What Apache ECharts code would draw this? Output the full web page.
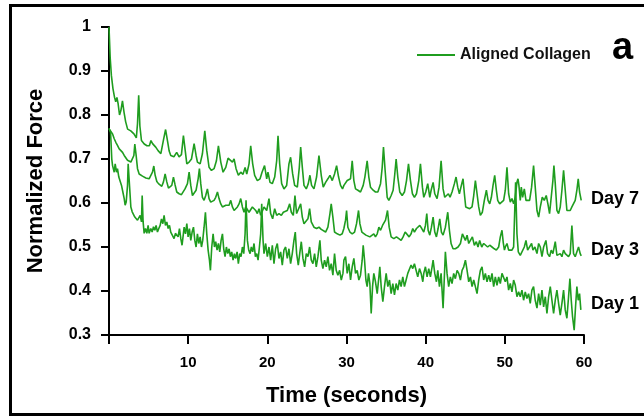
<!DOCTYPE html>
<html>
<head>
<meta charset="utf-8">
<script src="https://cdn.jsdelivr.net/npm/echarts@6/dist/echarts.min.js"></script>
<style>
  html, body { margin: 0; padding: 0; background: #fff; }
  #chart { width: 644px; height: 418px; }
</style>
</head>
<body>
<div id="chart"></div>
<script>
// Stress relaxation of aligned collagen gels: [time (s), normalized force]
const day7 = [
  [0,1.0],[0.15,0.93],[0.3,0.89],[0.5,0.86],[0.7,0.84],[0.85,0.83],[1.0,0.84],[1.15,0.826],[1.33,0.80],[1.5,0.81],
  [1.7,0.832],[1.9,0.806],[2.1,0.785],[2.35,0.768],[2.75,0.764],[3.15,0.757],[3.45,0.748],[3.6,0.78],[3.75,0.845],[3.9,0.775],
  [4.1,0.742],[4.45,0.734],[4.8,0.73],[5.1,0.73],[5.3,0.742],[5.5,0.735],[5.7,0.738],[5.9,0.727],[6.2,0.719],[6.55,0.712],
  [6.9,0.745],[7.15,0.767],[7.4,0.74],[7.6,0.718],[7.8,0.708],[8.2,0.705],[8.55,0.715],[8.85,0.705],[9.15,0.71],[9.4,0.753],
  [9.83,0.689],[10.12,0.693],[10.42,0.70],[10.75,0.735],[11.0,0.708],[11.17,0.693],[11.51,0.689],[11.8,0.712],[12.1,0.764],[12.35,0.719],
  [12.64,0.681],[12.94,0.674],[13.27,0.678],[13.57,0.696],[13.82,0.73],[14.12,0.693],[14.41,0.67],[14.75,0.681],[15.04,0.702],[15.29,0.704],
  [15.59,0.693],[15.8,0.70],[16.05,0.678],[16.34,0.663],[16.64,0.67],[16.93,0.665],[17.19,0.681],[17.4,0.666],[17.69,0.689],[17.9,0.73],
  [18.15,0.689],[18.4,0.663],[18.74,0.651],[19.08,0.655],[19.33,0.67],[19.65,0.685],[19.92,0.655],[20.08,0.67],[20.34,0.647],[20.63,0.644],
  [20.93,0.659],[21.18,0.696],[21.35,0.753],[21.56,0.689],[21.81,0.644],[22.1,0.632],[22.44,0.64],[22.73,0.689],[22.94,0.704],[23.2,0.666],
  [23.45,0.64],[23.79,0.636],[24.04,0.681],[24.21,0.727],[24.42,0.681],[24.63,0.64],[24.92,0.632],[25.17,0.644],[25.38,0.663],[25.59,0.64],
  [25.89,0.632],[26.22,0.659],[26.52,0.708],[26.81,0.663],[27.06,0.636],[27.36,0.647],[27.65,0.655],[27.91,0.663],[28.2,0.651],[28.49,0.666],
  [28.75,0.685],[29.0,0.659],[29.25,0.64],[29.5,0.632],[29.67,0.64],[30.09,0.651],[30.3,0.647],[30.51,0.655],[30.72,0.696],[30.93,0.651],
  [31.14,0.632],[31.44,0.629],[31.77,0.625],[32.11,0.64],[32.32,0.659],[32.61,0.696],[32.82,0.659],[33.03,0.636],[33.37,0.629],[33.66,0.625],
  [33.96,0.625],[34.3,0.644],[34.51,0.681],[34.67,0.727],[34.88,0.674],[35.14,0.613],[35.35,0.606],[35.64,0.617],[35.89,0.629],[36.1,0.666],
  [36.27,0.70],[36.48,0.659],[36.73,0.625],[37.03,0.617],[37.32,0.625],[37.58,0.651],[37.83,0.689],[38.08,0.651],[38.33,0.621],[38.58,0.613],
  [38.84,0.621],[39.13,0.651],[39.34,0.689],[39.59,0.636],[39.76,0.613],[40.01,0.625],[40.26,0.644],[40.52,0.613],[40.69,0.629],[40.94,0.647],
  [41.15,0.621],[41.44,0.61],[41.69,0.636],[41.95,0.696],[42.2,0.632],[42.41,0.613],[42.62,0.617],[42.87,0.621],[43.08,0.613],[43.33,0.625],
  [43.63,0.644],[43.84,0.659],[44.05,0.636],[44.26,0.621],[44.51,0.64],[44.72,0.655],[44.89,0.621],[45.06,0.591],[45.31,0.587],[45.56,0.587],
  [45.86,0.591],[46.07,0.617],[46.28,0.651],[46.49,0.621],[46.7,0.591],[46.91,0.572],[47.16,0.579],[47.41,0.606],[47.67,0.629],[47.88,0.606],
  [48.09,0.598],[48.3,0.613],[48.51,0.64],[48.72,0.663],[48.93,0.629],[49.1,0.606],[49.35,0.598],[49.6,0.595],[49.85,0.606],[50.06,0.629],
  [50.27,0.681],[50.48,0.621],[50.69,0.602],[50.9,0.61],[51.11,0.598],[51.32,0.613],[51.53,0.647],[51.66,0.655],[51.78,0.64],[51.95,0.606],
  [52.08,0.636],[52.25,0.613],[52.46,0.632],[52.67,0.606],[52.88,0.602],[53.13,0.606],[53.38,0.636],[53.63,0.685],[53.84,0.636],[54.06,0.583],
  [54.27,0.568],[54.48,0.591],[54.73,0.613],[54.98,0.606],[55.23,0.617],[55.44,0.598],[55.65,0.576],[55.86,0.613],[56.07,0.651],[56.2,0.685],
  [56.37,0.644],[56.58,0.583],[56.79,0.576],[57.0,0.591],[57.21,0.629],[57.42,0.674],[57.63,0.629],[57.84,0.583],[58.05,0.579],[58.26,0.583],
  [58.47,0.591],[58.68,0.595],[58.89,0.606],[59.1,0.629],[59.27,0.655],[59.44,0.625],[59.65,0.606]
];

const day3 = [
  [0.02,0.768],[0.23,0.765],[0.45,0.757],[0.66,0.746],[0.86,0.738],[1.07,0.731],[1.29,0.723],[1.5,0.719],[1.71,0.715],[1.92,0.708],
  [2.13,0.704],[2.34,0.697],[2.55,0.693],[2.76,0.693],[2.97,0.697],[3.14,0.708],[3.26,0.734],[3.43,0.708],[3.6,0.678],[3.81,0.666],
  [4.02,0.663],[4.23,0.661],[4.44,0.659],[4.65,0.657],[4.86,0.654],[5.07,0.655],[5.28,0.654],[5.49,0.67],[5.66,0.684],[5.83,0.663],
  [6.04,0.649],[6.25,0.644],[6.46,0.64],[6.67,0.638],[6.88,0.648],[7.09,0.666],[7.3,0.648],[7.51,0.634],[7.72,0.631],[7.93,0.64],
  [8.14,0.659],[8.35,0.641],[8.56,0.625],[8.86,0.621],[9.15,0.619],[9.4,0.621],[9.6,0.632],[9.7,0.629],[9.91,0.644],[10.12,0.67],
  [10.33,0.64],[10.54,0.617],[10.75,0.613],[11.0,0.629],[11.26,0.655],[11.42,0.678],[11.59,0.644],[11.8,0.613],[12.01,0.606],[12.22,0.617],
  [12.43,0.632],[12.64,0.61],[12.85,0.602],[13.06,0.606],[13.27,0.606],[13.48,0.613],[13.7,0.625],[13.9,0.61],[14.12,0.598],[14.33,0.591],
  [14.54,0.587],[14.75,0.595],[14.96,0.591],[15.17,0.595],[15.38,0.606],[15.59,0.591],[15.8,0.583],[16.01,0.587],[16.22,0.591],[16.43,0.598],
  [16.64,0.61],[16.85,0.591],[17.06,0.579],[17.27,0.591],[17.48,0.595],[17.69,0.579],[17.9,0.576],[18.11,0.591],[18.32,0.595],[18.53,0.583],
  [18.74,0.576],[18.95,0.587],[19.16,0.572],[19.37,0.568],[19.58,0.591],[19.92,0.583],[20.21,0.61],[20.42,0.576],[20.67,0.564],[20.93,0.587],
  [21.18,0.572],[21.47,0.576],[21.77,0.572],[22.02,0.579],[22.19,0.576],[22.52,0.583],[22.82,0.598],[23.03,0.579],[23.28,0.572],[23.49,0.617],
  [23.7,0.576],[23.95,0.572],[24.21,0.598],[24.42,0.568],[24.63,0.553],[24.88,0.553],[25.13,0.564],[25.34,0.587],[25.55,0.557],[25.89,0.545],
  [26.22,0.542],[26.52,0.545],[26.81,0.54],[27.06,0.536],[27.36,0.534],[27.65,0.545],[27.91,0.576],[28.07,0.598],[28.28,0.568],[28.49,0.534],
  [28.83,0.53],[29.17,0.527],[29.46,0.53],[29.67,0.542],[29.88,0.561],[30.01,0.583],[30.17,0.545],[30.43,0.534],[30.72,0.53],[31.02,0.534],
  [31.27,0.553],[31.52,0.583],[31.69,0.553],[31.94,0.534],[32.19,0.534],[32.45,0.527],[32.7,0.53],[32.95,0.523],[33.2,0.527],[33.45,0.53],
  [33.66,0.523],[33.88,0.53],[34.09,0.545],[34.3,0.538],[34.55,0.549],[34.72,0.545],[34.93,0.561],[35.18,0.583],[35.39,0.545],[35.64,0.523],
  [35.98,0.519],[36.31,0.523],[36.61,0.519],[36.9,0.515],[37.15,0.523],[37.41,0.534],[37.66,0.53],[37.91,0.523],[38.16,0.53],[38.37,0.542],
  [38.58,0.534],[38.84,0.542],[39.0,0.538],[39.26,0.549],[39.51,0.542],[39.76,0.534],[39.97,0.549],[40.14,0.576],[40.31,0.538],[40.52,0.527],
  [40.73,0.545],[40.94,0.568],[41.15,0.534],[41.36,0.523],[41.57,0.542],[41.78,0.564],[41.99,0.534],[42.2,0.527],[42.49,0.545],[42.79,0.579],
  [43.0,0.538],[43.21,0.508],[43.46,0.496],[43.75,0.496],[44.09,0.5],[44.39,0.508],[44.64,0.53],[44.81,0.534],[45.02,0.515],[45.23,0.527],
  [45.44,0.508],[45.65,0.515],[45.9,0.523],[46.15,0.504],[46.4,0.512],[46.61,0.5],[46.82,0.515],[47.08,0.5],[47.33,0.508],[47.58,0.512],
  [47.83,0.5],[48.09,0.504],[48.38,0.5],[48.67,0.496],[48.93,0.493],[49.22,0.5],[49.43,0.523],[49.64,0.538],[49.8,0.51],[49.95,0.493],
  [50.06,0.5],[50.27,0.508],[50.48,0.493],[50.69,0.489],[50.9,0.493],[51.11,0.5],[51.24,0.5],[51.36,0.647],[51.53,0.53],[51.7,0.489],
  [51.95,0.481],[52.2,0.485],[52.46,0.5],[52.67,0.515],[52.88,0.493],[53.13,0.496],[53.38,0.508],[53.55,0.493],[53.8,0.5],[54.06,0.485],
  [54.27,0.508],[54.48,0.5],[54.69,0.478],[54.9,0.5],[55.19,0.515],[55.4,0.485],[55.65,0.478],[55.86,0.493],[56.07,0.485],[56.37,0.512],
  [56.58,0.481],[56.79,0.478],[57.0,0.485],[57.21,0.478],[57.42,0.493],[57.63,0.485],[57.84,0.481],[58.05,0.478],[58.26,0.485],[58.47,0.549],
  [58.68,0.485],[58.89,0.478],[59.1,0.481],[59.31,0.5],[59.52,0.485],[59.65,0.48]
];

const day1 = [
  [0,0.77],[0.1,0.765],[0.2,0.76],[0.35,0.70],[0.45,0.685],[0.66,0.67],[0.78,0.689],[0.95,0.67],[1.07,0.678],[1.24,0.659],
  [1.41,0.655],[1.58,0.64],[1.75,0.625],[1.92,0.61],[2.04,0.595],[2.17,0.602],[2.34,0.64],[2.42,0.689],[2.59,0.64],[2.76,0.591],
  [2.93,0.58],[3.1,0.576],[3.26,0.568],[3.43,0.572],[3.6,0.561],[3.77,0.564],[3.94,0.572],[4.1,0.557],[4.19,0.617],[4.31,0.557],
  [4.44,0.531],[4.61,0.542],[4.78,0.531],[4.94,0.549],[5.07,0.531],[5.28,0.542],[5.45,0.534],[5.62,0.546],[5.79,0.538],[5.95,0.549],
  [6.12,0.534],[6.29,0.542],[6.46,0.549],[6.63,0.564],[6.8,0.553],[6.96,0.572],[7.13,0.549],[7.3,0.557],[7.47,0.542],[7.64,0.549],
  [7.8,0.534],[8.01,0.538],[8.22,0.519],[8.39,0.531],[8.56,0.534],[8.73,0.523],[8.9,0.542],[9.07,0.519],[9.23,0.504],[9.4,0.531],
  [9.49,0.545],[9.66,0.53],[9.83,0.553],[9.99,0.523],[10.16,0.542],[10.33,0.515],[10.5,0.534],[10.67,0.545],[10.84,0.515],[11.0,0.5],
  [11.17,0.53],[11.34,0.508],[11.51,0.523],[11.68,0.5],[11.84,0.515],[12.01,0.545],[12.18,0.579],[12.35,0.53],[12.52,0.493],[12.69,0.47],
  [12.81,0.447],[12.98,0.5],[13.15,0.53],[13.32,0.5],[13.48,0.512],[13.65,0.493],[13.82,0.508],[13.99,0.489],[14.16,0.515],[14.33,0.53],
  [14.49,0.496],[14.66,0.478],[14.83,0.5],[15.0,0.485],[15.17,0.496],[15.33,0.478],[15.5,0.489],[15.67,0.47],[15.84,0.485],[16.01,0.474],
  [16.18,0.489],[16.34,0.462],[16.51,0.485],[16.68,0.478],[16.85,0.5],[17.02,0.485],[17.19,0.53],[17.31,0.606],[17.48,0.515],[17.65,0.493],
  [17.82,0.485],[17.98,0.5],[18.15,0.489],[18.32,0.508],[18.49,0.478],[18.66,0.485],[18.83,0.47],[19.0,0.5],[19.16,0.53],[19.29,0.598],
  [19.46,0.515],[19.58,0.485],[19.79,0.508],[20.0,0.478],[20.21,0.5],[20.42,0.47],[20.63,0.504],[20.84,0.462],[21.05,0.496],[21.26,0.508],
  [21.47,0.474],[21.68,0.489],[21.89,0.459],[22.1,0.493],[22.31,0.5],[22.52,0.474],[22.73,0.496],[22.94,0.462],[23.15,0.485],[23.36,0.515],
  [23.53,0.534],[23.7,0.485],[23.91,0.459],[24.12,0.489],[24.29,0.512],[24.5,0.474],[24.71,0.455],[24.92,0.485],[25.13,0.478],[25.34,0.5],
  [25.55,0.47],[25.76,0.462],[25.97,0.485],[26.18,0.455],[26.39,0.478],[26.64,0.515],[26.81,0.47],[27.02,0.451],[27.23,0.47],[27.44,0.455],
  [27.65,0.478],[27.86,0.447],[28.07,0.462],[28.28,0.436],[28.49,0.485],[28.7,0.447],[28.91,0.436],[29.13,0.447],[29.34,0.425],[29.55,0.44],
  [29.67,0.47],[29.88,0.478],[30.09,0.44],[30.3,0.462],[30.51,0.425],[30.72,0.455],[30.93,0.474],[31.14,0.44],[31.35,0.447],[31.56,0.425],
  [31.77,0.436],[31.98,0.47],[32.11,0.504],[32.28,0.47],[32.45,0.425],[32.61,0.41],[32.78,0.44],[32.95,0.417],[33.12,0.349],[33.29,0.41],
  [33.45,0.44],[33.66,0.421],[33.88,0.394],[34.09,0.432],[34.21,0.455],[34.38,0.41],[34.59,0.376],[34.8,0.41],[35.01,0.44],[35.22,0.41],
  [35.43,0.425],[35.64,0.394],[35.85,0.417],[36.06,0.391],[36.27,0.417],[36.48,0.402],[36.69,0.425],[36.9,0.41],[37.11,0.432],[37.32,0.41],
  [37.53,0.425],[37.74,0.44],[37.95,0.436],[38.16,0.459],[38.37,0.451],[38.58,0.462],[38.79,0.447],[39.0,0.432],[39.22,0.451],[39.43,0.44],
  [39.64,0.421],[39.76,0.44],[39.97,0.455],[40.18,0.432],[40.39,0.451],[40.6,0.432],[40.81,0.455],[40.94,0.47],[41.15,0.44],[41.36,0.421],
  [41.53,0.447],[41.74,0.41],[41.95,0.44],[42.2,0.361],[42.49,0.489],[42.7,0.44],[42.91,0.41],[43.12,0.432],[43.33,0.417],[43.54,0.44],
  [43.75,0.428],[43.97,0.447],[44.18,0.44],[44.39,0.425],[44.6,0.447],[44.81,0.455],[45.02,0.47],[45.23,0.447],[45.44,0.421],[45.65,0.432],
  [45.86,0.41],[46.07,0.425],[46.28,0.41],[46.49,0.394],[46.7,0.425],[46.91,0.447],[47.12,0.455],[47.33,0.425],[47.54,0.44],[47.75,0.421],
  [47.96,0.436],[48.17,0.421],[48.38,0.44],[48.59,0.41],[48.8,0.432],[49.01,0.413],[49.22,0.432],[49.43,0.417],[49.64,0.44],[49.85,0.44],
  [50.06,0.421],[50.27,0.432],[50.48,0.402],[50.69,0.417],[50.9,0.398],[51.11,0.425],[51.32,0.413],[51.53,0.387],[51.74,0.398],[51.95,0.387],
  [52.16,0.402],[52.37,0.379],[52.58,0.398],[52.79,0.383],[53.0,0.394],[53.21,0.372],[53.42,0.402],[53.63,0.41],[53.84,0.379],[54.06,0.361],
  [54.27,0.394],[54.48,0.368],[54.69,0.402],[54.9,0.364],[55.11,0.387],[55.32,0.349],[55.53,0.387],[55.74,0.41],[55.95,0.379],[56.16,0.349],
  [56.37,0.379],[56.58,0.402],[56.79,0.372],[57.0,0.345],[57.21,0.372],[57.42,0.402],[57.63,0.357],[57.84,0.338],[58.05,0.387],[58.22,0.428],
  [58.39,0.379],[58.55,0.342],[58.76,0.311],[58.93,0.364],[59.1,0.41],[59.27,0.379],[59.44,0.394],[59.6,0.357]
];

const seriesName = 'Aligned Collagen';
const dayLabels = ['Day 7', 'Day 3', 'Day 1'];
const lineColor = '#1f9d1f';
const font = '"Liberation Sans", Arial, sans-serif';

const chart = echarts.init(document.getElementById('chart'), null, { renderer: 'canvas' });

function lineSeries(data) {
  return {
    name: seriesName,
    type: 'line',
    data: data,
    showSymbol: false,
    symbol: 'none',
    smooth: false,
    lineStyle: { color: lineColor, width: 1.6 },
    itemStyle: { color: lineColor },
    emphasis: { disabled: true }
  };
}

const boldText = (size) => ({ fontFamily: font, fontWeight: 'bold', fontSize: size, color: '#000' });

chart.setOption({
  animation: false,
  backgroundColor: '#fff',
  grid: { left: 109, top: 27, width: 475, height: 308 },
  legend: {
    data: [seriesName],
    left: 412,
    top: 42,
    icon: 'rect',
    itemWidth: 38,
    itemHeight: 2,
    textStyle: Object.assign(boldText(16), { color: '#111' })
  },
  xAxis: {
    type: 'value',
    min: 0,
    max: 60,
    interval: 10,
    name: 'Time (seconds)',
    nameLocation: 'middle',
    nameGap: 50,
    nameTextStyle: boldText(22),
    axisLine: { show: true, onZero: false, lineStyle: { color: '#000', width: 2 } },
    axisTick: { show: true, inside: false, length: 9, lineStyle: { color: '#000', width: 2 } },
    axisLabel: Object.assign(boldText(15), {
      margin: 20,
      formatter: (v) => (v === 0 ? '' : String(v))
    }),
    splitLine: { show: false }
  },
  yAxis: {
    type: 'value',
    min: 0.3,
    max: 1,
    interval: 0.1,
    name: 'Normalized Force',
    nameLocation: 'middle',
    nameGap: 62,
    nameTextStyle: boldText(22),
    axisLine: { show: true, onZero: false, lineStyle: { color: '#000', width: 2 } },
    axisTick: { show: true, inside: false, length: 8, lineStyle: { color: '#000', width: 2 } },
    axisLabel: Object.assign(boldText(16), {
      margin: 18,
      formatter: (v) => String(Number(v.toFixed(1)))
    }),
    splitLine: { show: false }
  },
  series: [lineSeries(day7), lineSeries(day3), lineSeries(day1)],
  graphic: [
    {
      type: 'rect',
      silent: true,
      shape: { x: 10.5, y: 5.5, width: 700, height: 409 },
      style: { fill: 'none', stroke: '#000', lineWidth: 3 }
    },
    {
      type: 'text',
      silent: true,
      style: { text: 'a', x: 612, y: 49, fontFamily: font, fontWeight: 'bold', fontSize: 38, fill: '#000', align: 'left', verticalAlign: 'middle' }
    },
    {
      type: 'text', silent: true,
      style: { text: dayLabels[0], x: 591, y: 199, fontFamily: font, fontWeight: 'bold', fontSize: 18, fill: '#000', align: 'left', verticalAlign: 'middle' }
    },
    {
      type: 'text', silent: true,
      style: { text: dayLabels[1], x: 591, y: 250, fontFamily: font, fontWeight: 'bold', fontSize: 18, fill: '#000', align: 'left', verticalAlign: 'middle' }
    },
    {
      type: 'text', silent: true,
      style: { text: dayLabels[2], x: 591, y: 304, fontFamily: font, fontWeight: 'bold', fontSize: 18, fill: '#000', align: 'left', verticalAlign: 'middle' }
    }
  ]
});
</script>
</body>
</html>
